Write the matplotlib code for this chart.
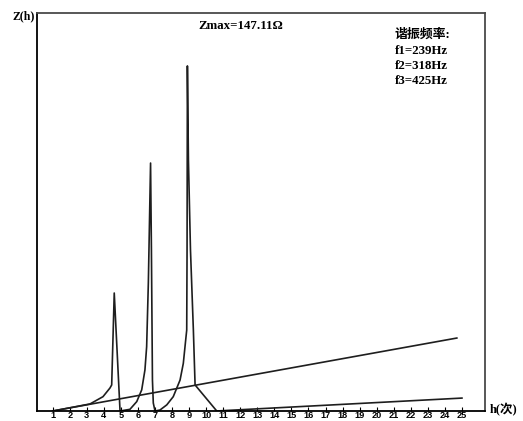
import numpy as np
import matplotlib
matplotlib.use("Agg")
import matplotlib.pyplot as plt

# harmonic order h and impedance Z(h)
h_curve = [1.02, 3.19, 3.95, 4.36, 4.46, 4.61, 4.95,
           5.53, 5.93, 6.22, 6.41, 6.51, 6.61, 6.74, 6.79, 6.85, 6.90, 7.0,
           7.29, 7.69, 8.07, 8.47, 8.66, 8.80, 8.86, 8.88, 8.90, 8.96, 9.08, 9.25, 9.35, 10.62]
z_curve = [0.0, 3.0, 6.1, 9.8, 11.1, 50.3, 0.0,
           0.7, 4.0, 9.0, 17.5, 27.4, 54.6, 105.7, 68.6, 13.2, 3.4, 0.0,
           0.4, 2.6, 6.1, 13.2, 20.3, 30.3, 34.5, 68.7, 147.11, 107.0, 68.7, 34.5, 11.1, 0.0]

# two straight lines
h_line1 = [1.0, 24.7]
z_line1 = [0.0, 31.1]
h_line2 = [10.62, 25.0]
z_line2 = [0.0, 5.5]

ticks = list(range(1, 26))
zmax_text = "Zmax=147.11Ω"
freq_lines = ["谐振频率:", "f1=239Hz", "f2=318Hz", "f3=425Hz"]

fam = ["Liberation Serif", "Noto Sans CJK SC"]

fig = plt.figure(figsize=(5.23, 4.21), dpi=100)
ax = fig.add_axes([0.0707, 0.0238, 0.8566, 0.9454])

lc = "#1e1e1e"
ax.plot(h_curve, z_curve, color=lc, lw=1.2)
ax.plot(h_line1, z_line1, color=lc, lw=1.2)
ax.plot(h_line2, z_line2, color=lc, lw=1.2)

ax.set_xlim(0.079, 26.35)
ax.set_ylim(0, 169.7)

ax.set_xticks(ticks)
ax.set_xticklabels([str(t) for t in ticks], fontsize=6.6, fontweight="bold",
                   family="Liberation Sans")
ax.tick_params(axis="x", direction="in", length=3, width=0.8, pad=0.2)
ax.set_yticks([])

for s in ["left", "bottom"]:
    ax.spines[s].set_color("black")
    ax.spines[s].set_linewidth(1.3)
for s in ["top", "right"]:
    ax.spines[s].set_color("#4a4a4a")
    ax.spines[s].set_linewidth(1.3)

fig.text(24 / 523, 1 - 16 / 421, "Z(h)", family=fam, fontsize=8.5, fontweight="bold",
         ha="center", va="center")
fig.text(241 / 523, 1 - 26 / 421, zmax_text, family=fam, fontsize=9.3, fontweight="bold",
         ha="center", va="center")
ys = [35, 51, 66, 81]
for t, y in zip(freq_lines, ys):
    fig.text(395 / 523, 1 - y / 421, t, family=fam, fontsize=9.3, fontweight="bold",
             ha="left", va="center")
fig.text(490 / 523, 1 - 410 / 421, "h(次)", family=fam, fontsize=9, fontweight="bold",
         ha="left", va="center")

fig.savefig("out.png", dpi=100)
